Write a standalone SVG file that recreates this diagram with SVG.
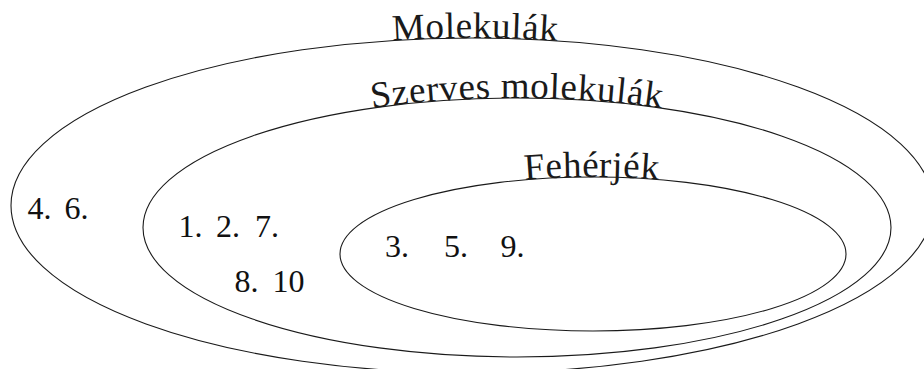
<svg xmlns="http://www.w3.org/2000/svg" xmlns:xlink="http://www.w3.org/1999/xlink" width="924" height="369" viewBox="0 0 924 369">
  <style>
    .set { fill: none; stroke: #1a1a1a; stroke-width: 1.1; }
    .title { font-family: "Liberation Serif", "Times New Roman", serif; font-size: 37px; letter-spacing: 0.6px; fill: #1a1a1a; }
    .num { font-family: "Liberation Serif", "Times New Roman", serif; font-size: 32px; fill: #111; }
  </style>
  <defs>
    <path id="arcOuter" d="M 11,205.5 A 461,167.5 0 0 1 933,205.5"/>
    <path id="arcMiddle" d="M 143,227.5 A 374,129.5 0 0 1 891,227.5"/>
    <path id="arcInner" d="M 340,254 A 253,77 0 0 1 846,254"/>
  </defs>
  <rect width="924" height="369" fill="#ffffff"/>

  <g id="molekulak">
    <ellipse class="set" cx="472" cy="205.5" rx="461" ry="167.5"/>
    <text class="title" text-anchor="middle"><textPath xlink:href="#arcOuter" href="#arcOuter" startOffset="50.3%">Molekulák</textPath></text>
    <text class="num" y="219"><tspan x="27.5">4.</tspan><tspan x="64.5">6.</tspan></text>
  </g>

  <g id="szerves-molekulak">
    <ellipse class="set" cx="517" cy="227.5" rx="374" ry="129.5"/>
    <text class="title" text-anchor="middle"><textPath xlink:href="#arcMiddle" href="#arcMiddle" startOffset="50%">Szerves molekulák</textPath></text>
    <text class="num" y="237"><tspan x="178.5">1.</tspan><tspan x="216">2.</tspan><tspan x="255">7.</tspan></text>
    <text class="num" y="291.5"><tspan x="234.5">8.</tspan><tspan x="272.5">10</tspan></text>
  </g>

  <g id="feherjek">
    <ellipse class="set" cx="593" cy="254" rx="253" ry="77"/>
    <text class="title" text-anchor="middle"><textPath xlink:href="#arcInner" href="#arcInner" startOffset="49.8%">Fehérjék</textPath></text>
    <text class="num" y="256.5"><tspan x="385">3.</tspan><tspan x="444">5.</tspan><tspan x="500.5">9.</tspan></text>
  </g>

  <g id="connectors"/>
</svg>
